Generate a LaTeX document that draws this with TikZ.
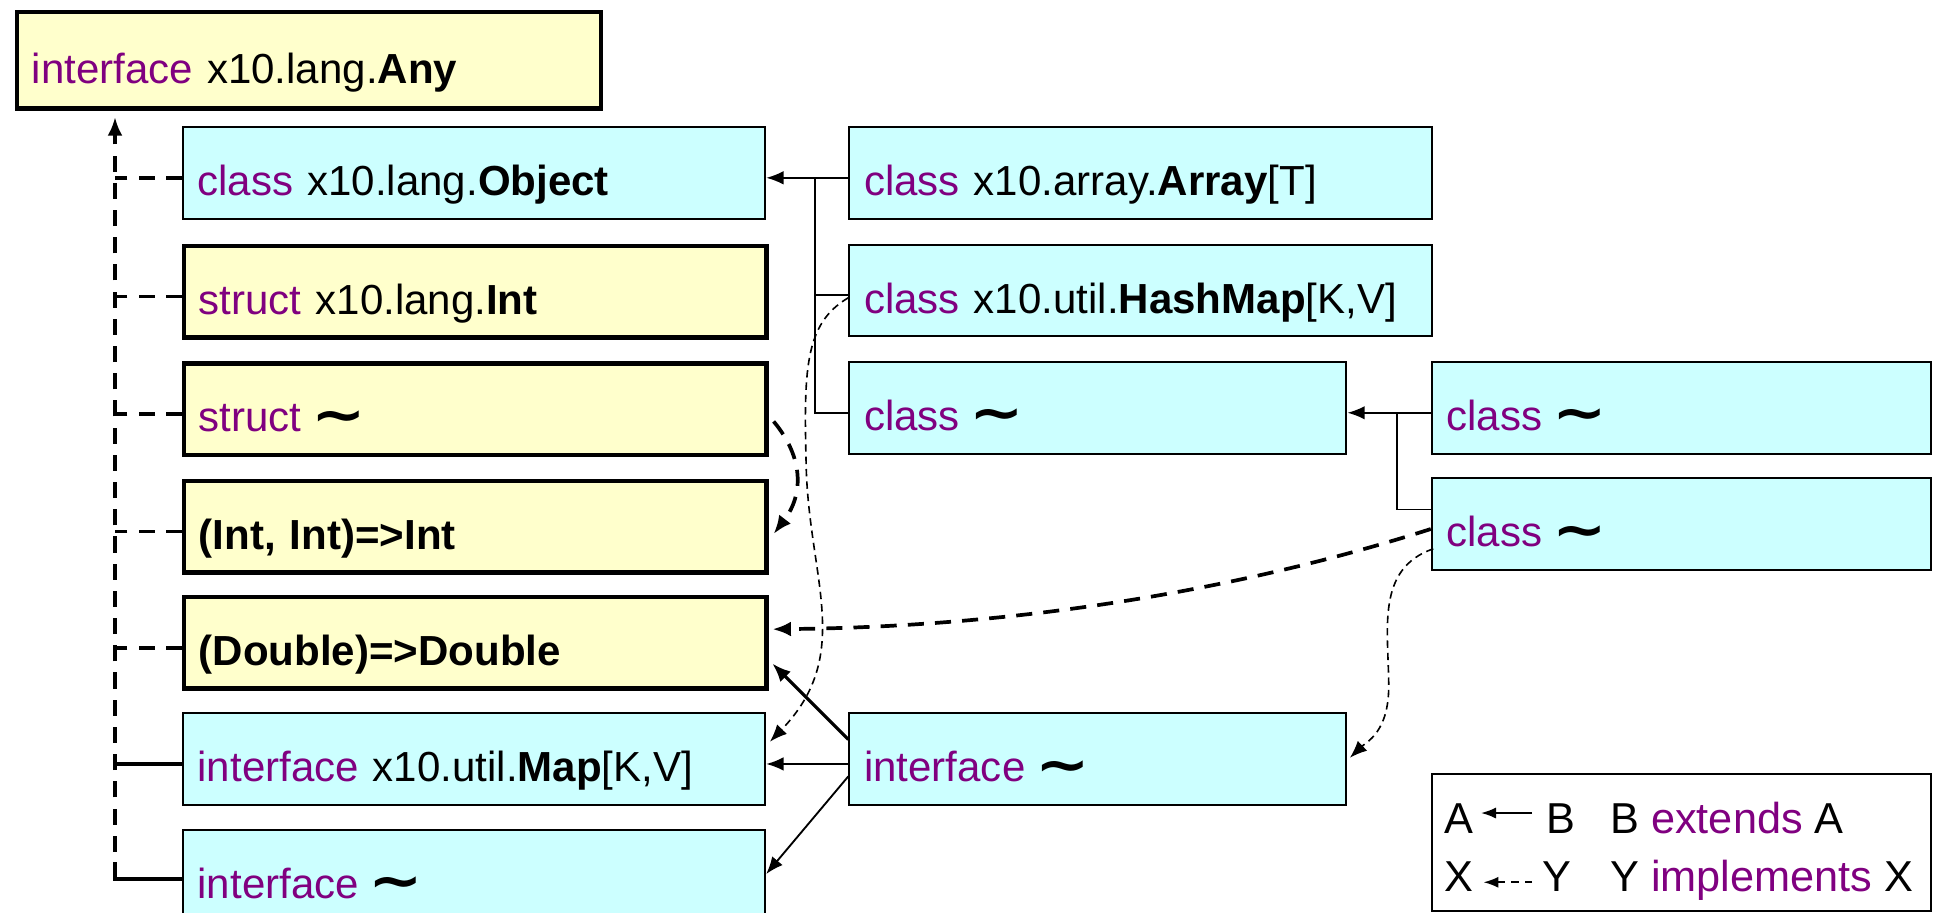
\documentclass[tikz,border=0pt]{standalone}
\usepackage{fontspec}
\usepackage{graphicx}
\setmainfont{Liberation Sans}
\newfontfamily\tildefont{DejaVu Sans}
\usetikzlibrary{arrows.meta,calc}
\definecolor{kwcol}{HTML}{800080}
\definecolor{cyanfill}{HTML}{CCFFFF}
\definecolor{yellowfill}{HTML}{FFFFCC}
\newcommand\kw[1]{\textcolor{kwcol}{#1}}
% wide, heavy wave dash used for elided type names
\newcommand\tld{\hspace{8pt}\raisebox{-1pt}{\scalebox{1.55}[1.3]{\tildefont\bfseries ∼}}}

\begin{document}
\begin{tikzpicture}[x=1pt,y=-1pt,
  every node/.style={font=\fontsize{34}{40}\selectfont},
  box/.style={rectangle, anchor=north west, inner xsep=12pt, inner ysep=0pt,
    minimum height=74pt, text height=45pt, text depth=8pt, align=left},
  cbox/.style={box, draw=black, line width=1.6pt, fill=cyanfill},
  ybox/.style={box, draw=black, line width=3.6pt, fill=yellowfill},
  wide/.style={text width=447pt},
  mid/.style={text width=378pt},
  right/.style={text width=380pt},
  plain/.style={line width=1.5pt},
  thickline/.style={line width=3pt},
  ext/.style={line width=1.5pt, -{Latex[length=14pt,width=11pt]}},
  extthick/.style={line width=2.6pt, -{Latex[length=15pt,width=12pt]}},
  impl/.style={line width=1.3pt, dash pattern=on 6pt off 4pt, -{Latex[length=14pt,width=11pt]}},
  bigdash/.style={line width=3pt, dash pattern=on 13pt off 9pt},
  bigimpl/.style={bigdash, -{Latex[length=15pt,width=12pt]}},
  legtext/.style={anchor=base west, inner sep=0pt, font=\fontsize{35}{42}\selectfont},
  legarrow/.style={line width=1.3pt, -{Latex[length=12pt,width=9pt]}},
]
\path[clip] (0,0) rectangle (1568,738);
\fill[white] (0,0) rectangle (1568,738);

% type boxes, left column
\node[ybox, text width=448pt, minimum height=78pt] (Any) at (12,8) {\kw{interface} x10.lang.\textbf{Any}};
\node[cbox, wide] (Obj) at (147,102) {\kw{class} x10.lang.\textbf{Object}};
\node[ybox, wide] (Int) at (147,197) {\kw{struct} x10.lang.\textbf{Int}};
\node[ybox, wide] (St)  at (147,292) {\kw{struct}\tld};
\node[ybox, wide] (F2)  at (147,387) {\textbf{(Int, Int)=>Int}};
\node[ybox, wide] (F1)  at (147,481) {\textbf{(Double)=>Double}};
\node[cbox, wide] (Map) at (147,576) {\kw{interface} x10.util.\textbf{Map}[K,V]};
\node[cbox, wide] (If2) at (147,670) {\kw{interface}\tld};

% middle column
\node[cbox, wide] (Arr) at (686,102) {\kw{class} x10.array.\textbf{Array}[T]};
\node[cbox, wide] (HM)  at (686,197) {\kw{class} x10.util.\textbf{HashMap}[K,V]};
\node[cbox, mid]  (C1)  at (686,292) {\kw{class}\tld};
\node[cbox, mid]  (If1) at (686,576) {\kw{interface}\tld};

% right column
\node[cbox, right] (R1) at (1157,292) {\kw{class}\tld};
\node[cbox, right] (R2) at (1157,386) {\kw{class}\tld};

% everything implements/extends Any through the left bus
\path (If2.west) ++(-54,3) coordinate (busB);
\draw[bigimpl, shorten >=5pt] (busB) -- (busB |- Any.south);
\foreach \n in {Obj,Int,St,F2,F1}
  \draw[bigdash] ($(\n.west)+(0,4)$) -- ++(-54,0);
\draw[thickline] ($(Map.west)+(0,4)$) -- ++(-54,0);
\draw[thickline] ($(If2.west)+(0,3)$) -- (busB) -- ++(0,-14);

% subclasses of Object
\path (Arr.west) ++(-27,4) coordinate (j1);
\draw[ext] ($(Arr.west)+(0,4)$) -- ($(Obj.east)+(0,4)$);
\draw[plain] ($(HM.west)+(0,4)$) -| (j1);
\draw[plain] ($(C1.west)+(0,4)$) -| (j1);

% subclasses of the middle class
\path (R1.west) ++(-27,4) coordinate (j2);
\draw[ext] ($(R1.west)+(0,4)$) -- ($(C1.east)+(0,4)$);
\draw[plain] ($(R2.north west)+(0,26)$) -| (j2);

% implements relations
\draw[impl] ($(HM.west)+(0,6)$) .. controls (650,262) and (650,300) .. (652,380)
  .. controls (655,470) and (690,530) .. ($(Map.east)+(3,-14)$);
\draw[bigimpl] ($(St.east)+(4,10)$) .. controls (650,370) and (650,400) .. ($(F2.east)+(4,6)$);
\draw[bigimpl] ($(R2.west)+(0,4)$) .. controls (1000,478) and (820,507) .. ($(F1.east)+(3,-11)$);
\draw[impl] ($(R2.west)+(2,20)$) .. controls (1112,460) and (1123,510) .. (1123,555)
  .. controls (1123,592) and (1105,600) .. ($(If1.east)+(2,-1)$);

% interface extends
\draw[extthick] ($(If1.north west)+(0,22)$) -- ($(F1.south east)+(3,-22)$);
\draw[ext] ($(If1.west)+(0,4)$) -- ($(Map.east)+(0,4)$);
\draw[ext] ($(If1.west)+(0,14)$) -- ($(If2.east)+(0,-1)$);

% legend
\node[draw=black, line width=1.5pt, anchor=north west, minimum width=404pt,
  minimum height=111pt, inner sep=0pt] (Leg) at (1157,625) {};
\node[legtext] (lA) at (1168,674) {A};
\node[legtext] (lB) at (1250,674) {B};
\node[legtext] (lE) at (1302,674) {B \kw{extends} A};
\node[legtext] (lX) at (1168,721) {X};
\node[legtext] (lY) at (1247,721) {Y};
\node[legtext] (lI) at (1302,721) {Y \kw{implements} X};
\draw[legarrow] ($(lB.west)+(-11,-4.5)$) -- ($(lA.east)+(6,-4.5)$);
\draw[legarrow, dash pattern=on 6pt off 5pt] ($(lY.west)+(-8,4.5)$) -- ($(lX.east)+(8,4.5)$);
\end{tikzpicture}
\end{document}
